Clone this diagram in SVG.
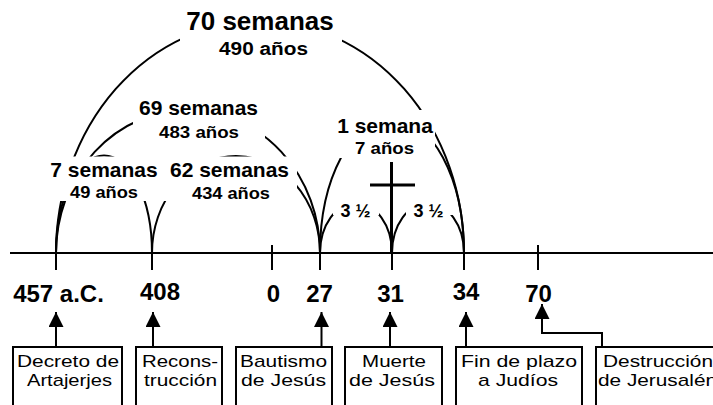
<svg xmlns="http://www.w3.org/2000/svg" width="713" height="405" viewBox="0 0 713 405">
<style>
.ln{stroke:#000;stroke-width:2;fill:none}
.mk{fill:#fff;stroke:none}
.b{font-family:"Liberation Sans",Arial,sans-serif;font-weight:bold;fill:#000;text-anchor:middle}
.r{font-family:"Liberation Sans",Arial,sans-serif;font-size:17px;fill:#000;text-anchor:middle}
.box{fill:#fff;stroke:#000;stroke-width:2}
.cr{stroke:#000;stroke-width:3;fill:none}
</style>
<defs>
<marker id="ah" markerUnits="userSpaceOnUse" markerWidth="15" markerHeight="15" refX="15" refY="7.5" orient="auto">
<path d="M0,0 L15,7.5 L0,15 z" fill="#000"/>
</marker>
</defs>
<rect width="713" height="405" fill="#fff"/>

<g id="timeline">
<line class="ln" x1="10" y1="253" x2="713" y2="253"/>
<line class="ln" x1="56" y1="253" x2="56" y2="270"/>
<line class="ln" x1="152" y1="253" x2="152" y2="270"/>
<line class="ln" x1="272" y1="245" x2="272" y2="270"/>
<line class="ln" x1="320" y1="253" x2="320" y2="270"/>
<line class="ln" x1="392" y1="253" x2="392" y2="270"/>
<line class="ln" x1="464" y1="253" x2="464" y2="270"/>
<line class="ln" x1="538" y1="245" x2="538" y2="270"/>
</g>

<g id="arcs">
<path class="ln" d="M56,253 A204,232 0 0 1 464,253"/>
<path class="ln" d="M56,253 A132,143 0 0 1 320,253"/>
<path class="ln" d="M56,253 A48,97.5 0 0 1 152,253"/>
<path class="ln" d="M152,253 A84,97 0 0 1 320,253"/>
<path class="ln" d="M320,253 A72,135 0 0 1 464,253"/>
<path class="ln" d="M320,253 A36,50 0 0 1 392,253"/>
<path class="ln" d="M392,253 A36,50 0 0 1 464,253"/>
</g>

<g id="label-masks">
<rect class="mk" x="180" y="0" width="162" height="60"/>
<rect class="mk" x="133" y="95" width="132" height="45"/>
<rect class="mk" x="45" y="156.5" width="252" height="44.5"/>
<rect class="mk" x="336" y="110" width="99" height="48"/>
<rect class="mk" x="333" y="195" width="46" height="20"/>
<rect class="mk" x="406" y="195" width="47" height="20"/>
</g>

<g id="cross">
<line class="cr" x1="391.5" y1="162" x2="391.5" y2="253"/>
<line class="cr" x1="370" y1="185" x2="415" y2="185"/>
</g>

<g id="period-labels">
<text class="b" x="260" y="30" font-size="26">70 semanas</text>
<text class="b" x="263.5" y="55" font-size="18" textLength="89" lengthAdjust="spacingAndGlyphs">490 años</text>
<text class="b" x="198.5" y="115" font-size="21">69 semanas</text>
<text class="b" x="199" y="138" font-size="17" textLength="80" lengthAdjust="spacingAndGlyphs">483 años</text>
<text class="b" x="104" y="177" font-size="21">7 semanas</text>
<text class="b" x="104" y="198" font-size="17" textLength="68" lengthAdjust="spacingAndGlyphs">49 años</text>
<text class="b" x="229.5" y="177" font-size="21">62 semanas</text>
<text class="b" x="231" y="199" font-size="17" textLength="78" lengthAdjust="spacingAndGlyphs">434 años</text>
<text class="b" x="385" y="133" font-size="21">1 semana</text>
<text class="b" x="384.5" y="154" font-size="17" textLength="59" lengthAdjust="spacingAndGlyphs">7 años</text>
<text class="b" x="355.5" y="217" font-size="18">3 ½</text>
<text class="b" x="428.5" y="217" font-size="18">3 ½</text>
</g>

<g id="year-labels">
<text class="b" x="58.5" y="302" font-size="24">457 a.C.</text>
<text class="b" x="160" y="300" font-size="24">408</text>
<text class="b" x="273.5" y="302" font-size="24">0</text>
<text class="b" x="319.5" y="302" font-size="24">27</text>
<text class="b" x="390.5" y="302" font-size="24">31</text>
<text class="b" x="466" y="300" font-size="24">34</text>
<text class="b" x="538.5" y="302" font-size="24">70</text>
</g>

<g id="connectors">
<line class="ln" x1="56" y1="347" x2="56" y2="312" marker-end="url(#ah)"/>
<line class="ln" x1="153" y1="347" x2="153" y2="312" marker-end="url(#ah)"/>
<line class="ln" x1="321.5" y1="347" x2="321.5" y2="312" marker-end="url(#ah)"/>
<line class="ln" x1="390" y1="347" x2="390" y2="312" marker-end="url(#ah)"/>
<line class="ln" x1="466" y1="347" x2="466" y2="312" marker-end="url(#ah)"/>
<path class="ln" d="M602,347 V333 H542 V304" marker-end="url(#ah)"/>
</g>

<g id="node-decreto">
<rect class="box" x="13" y="347" width="109" height="75"/>
<text class="r" x="68" y="366.5" textLength="102" lengthAdjust="spacingAndGlyphs">Decreto de</text>
<text class="r" x="69.5" y="385.5" textLength="85" lengthAdjust="spacingAndGlyphs">Artajerjes</text>
</g>
<g id="node-reconstruccion">
<rect class="box" x="136" y="347" width="86" height="75"/>
<text class="r" x="180" y="366.5" textLength="76" lengthAdjust="spacingAndGlyphs">Recons-</text>
<text class="r" x="180.5" y="385.5" textLength="73" lengthAdjust="spacingAndGlyphs">trucción</text>
</g>
<g id="node-bautismo">
<rect class="box" x="236" y="347" width="96" height="75"/>
<text class="r" x="283.5" y="366.5" textLength="87" lengthAdjust="spacingAndGlyphs">Bautismo</text>
<text class="r" x="283.5" y="385.5" textLength="85" lengthAdjust="spacingAndGlyphs">de Jesús</text>
</g>
<g id="node-muerte">
<rect class="box" x="345" y="347" width="97" height="75"/>
<text class="r" x="394" y="366.5" textLength="64" lengthAdjust="spacingAndGlyphs">Muerte</text>
<text class="r" x="392" y="385.5" textLength="86" lengthAdjust="spacingAndGlyphs">de Jesús</text>
</g>
<g id="node-fin">
<rect class="box" x="456" y="347" width="126" height="75"/>
<text class="r" x="519" y="366.5" textLength="116" lengthAdjust="spacingAndGlyphs">Fin de plazo</text>
<text class="r" x="518" y="385.5" textLength="80" lengthAdjust="spacingAndGlyphs">a Judíos</text>
</g>
<g id="node-destruccion">
<rect class="box" x="596" y="347" width="126" height="75"/>
<text class="r" x="658" y="366.5" textLength="110" lengthAdjust="spacingAndGlyphs">Destrucción</text>
<text class="r" x="657.5" y="385.5" textLength="119" lengthAdjust="spacingAndGlyphs">de Jerusalén</text>
</g>
</svg>
